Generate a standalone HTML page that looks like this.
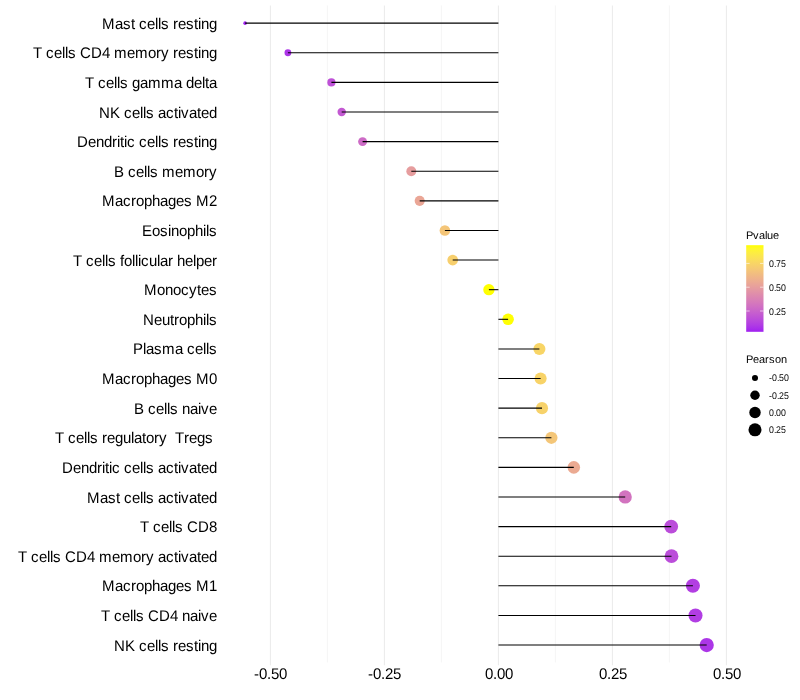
<!DOCTYPE html>
<html><head><meta charset="utf-8"><title>Pearson lollipop</title>
<style>html,body{margin:0;padding:0;background:#fff}svg{display:block}text{text-rendering:geometricPrecision;white-space:pre;font-family:"Liberation Sans",Arial,Helvetica,sans-serif;fill:#000}</style></head><body>
<svg width="800" height="700" viewBox="0 0 800 700">
<rect width="800" height="700" fill="#fff"/>
<line x1="327.40" x2="327.40" y1="5.5" y2="662.4" stroke="#EBEBEB" stroke-width="0.53"/>
<line x1="441.40" x2="441.40" y1="5.5" y2="662.4" stroke="#EBEBEB" stroke-width="0.53"/>
<line x1="555.40" x2="555.40" y1="5.5" y2="662.4" stroke="#EBEBEB" stroke-width="0.53"/>
<line x1="669.40" x2="669.40" y1="5.5" y2="662.4" stroke="#EBEBEB" stroke-width="0.53"/>
<line x1="270.40" x2="270.40" y1="5.5" y2="665.15" stroke="#EBEBEB" stroke-width="1.07"/>
<line x1="384.40" x2="384.40" y1="5.5" y2="665.15" stroke="#EBEBEB" stroke-width="1.07"/>
<line x1="498.40" x2="498.40" y1="5.5" y2="665.15" stroke="#EBEBEB" stroke-width="1.07"/>
<line x1="612.40" x2="612.40" y1="5.5" y2="665.15" stroke="#EBEBEB" stroke-width="1.07"/>
<line x1="726.40" x2="726.40" y1="5.5" y2="665.15" stroke="#EBEBEB" stroke-width="1.07"/>
<circle cx="245.10" cy="23.15" r="1.78" fill="#A020F0"/>
<circle cx="287.90" cy="52.77" r="3.40" fill="#AC35E7"/>
<circle cx="331.40" cy="82.38" r="4.08" fill="#BE51D7"/>
<circle cx="341.70" cy="112.00" r="4.22" fill="#C359D2"/>
<circle cx="362.60" cy="141.61" r="4.47" fill="#CD6BC6"/>
<circle cx="411.30" cy="171.22" r="4.98" fill="#E69D9E"/>
<circle cx="419.70" cy="200.84" r="5.06" fill="#EAA696"/>
<circle cx="444.90" cy="230.45" r="5.28" fill="#F4C578"/>
<circle cx="452.70" cy="260.07" r="5.35" fill="#F7CF6D"/>
<circle cx="488.90" cy="289.68" r="5.65" fill="#FFFF00"/>
<circle cx="508.10" cy="319.30" r="5.80" fill="#FFFF03"/>
<circle cx="539.40" cy="348.91" r="6.03" fill="#F8D566"/>
<circle cx="540.60" cy="378.53" r="6.04" fill="#F8D368"/>
<circle cx="542.00" cy="408.14" r="6.05" fill="#F7D26A"/>
<circle cx="551.40" cy="437.76" r="6.12" fill="#F4C678"/>
<circle cx="573.80" cy="467.37" r="6.28" fill="#EBAA92"/>
<circle cx="625.20" cy="496.99" r="6.62" fill="#D273BF"/>
<circle cx="671.20" cy="526.61" r="6.90" fill="#BB4DDA"/>
<circle cx="671.50" cy="556.22" r="6.90" fill="#BB4DDA"/>
<circle cx="692.90" cy="585.83" r="7.03" fill="#B23EE2"/>
<circle cx="695.50" cy="615.45" r="7.04" fill="#B13DE3"/>
<circle cx="706.70" cy="645.06" r="7.11" fill="#AC36E7"/>
<line x1="498.40" x2="245.10" y1="23.15" y2="23.15" stroke="#000" stroke-width="1.07"/>
<line x1="498.40" x2="287.90" y1="52.77" y2="52.77" stroke="#000" stroke-width="1.07"/>
<line x1="498.40" x2="331.40" y1="82.38" y2="82.38" stroke="#000" stroke-width="1.07"/>
<line x1="498.40" x2="341.70" y1="112.00" y2="112.00" stroke="#000" stroke-width="1.07"/>
<line x1="498.40" x2="362.60" y1="141.61" y2="141.61" stroke="#000" stroke-width="1.07"/>
<line x1="498.40" x2="411.30" y1="171.22" y2="171.22" stroke="#000" stroke-width="1.07"/>
<line x1="498.40" x2="419.70" y1="200.84" y2="200.84" stroke="#000" stroke-width="1.07"/>
<line x1="498.40" x2="444.90" y1="230.45" y2="230.45" stroke="#000" stroke-width="1.07"/>
<line x1="498.40" x2="452.70" y1="260.07" y2="260.07" stroke="#000" stroke-width="1.07"/>
<line x1="498.40" x2="488.90" y1="289.68" y2="289.68" stroke="#000" stroke-width="1.07"/>
<line x1="498.40" x2="508.10" y1="319.30" y2="319.30" stroke="#000" stroke-width="1.07"/>
<line x1="498.40" x2="539.40" y1="348.91" y2="348.91" stroke="#000" stroke-width="1.07"/>
<line x1="498.40" x2="540.60" y1="378.53" y2="378.53" stroke="#000" stroke-width="1.07"/>
<line x1="498.40" x2="542.00" y1="408.14" y2="408.14" stroke="#000" stroke-width="1.07"/>
<line x1="498.40" x2="551.40" y1="437.76" y2="437.76" stroke="#000" stroke-width="1.07"/>
<line x1="498.40" x2="573.80" y1="467.37" y2="467.37" stroke="#000" stroke-width="1.07"/>
<line x1="498.40" x2="625.20" y1="496.99" y2="496.99" stroke="#000" stroke-width="1.07"/>
<line x1="498.40" x2="671.20" y1="526.61" y2="526.61" stroke="#000" stroke-width="1.07"/>
<line x1="498.40" x2="671.50" y1="556.22" y2="556.22" stroke="#000" stroke-width="1.07"/>
<line x1="498.40" x2="692.90" y1="585.83" y2="585.83" stroke="#000" stroke-width="1.07"/>
<line x1="498.40" x2="695.50" y1="615.45" y2="615.45" stroke="#000" stroke-width="1.07"/>
<line x1="498.40" x2="706.70" y1="645.06" y2="645.06" stroke="#000" stroke-width="1.07"/>
<text x="102 115 123 131 135 139 147 155 158 161 169 173 178 186 194 198 201 209" y="0.00" font-size="15" transform="translate(0 29.00) scale(1 1.03)" xml:space="preserve">Mast cells resting</text>
<text x="33 42 46 54 62 65 68 76 80 91 102 110 114 127 135 148 156 161 169 173 178 186 194 198 201 209" y="0.00" font-size="15" transform="translate(0 58.00) scale(1 1.03)" xml:space="preserve">T cells CD4 memory resting</text>
<text x="85 94 98 106 114 117 120 128 132 140 148 161 174 182 186 194 202 205 209" y="0.00" font-size="15" transform="translate(0 88.00) scale(1 1.03)" xml:space="preserve">T cells gamma delta</text>
<text x="99 110 120 124 132 140 143 146 154 158 166 174 178 181 189 197 201 209" y="0.00" font-size="15" transform="translate(0 118.00) scale(1 1.03)" xml:space="preserve">NK cells activated</text>
<text x="77 88 96 104 112 117 120 124 127 135 139 147 155 158 161 169 173 178 186 194 198 201 209" y="0.00" font-size="15" transform="translate(0 147.00) scale(1 1.03)" xml:space="preserve">Dendritic cells resting</text>
<text x="114 124 128 136 144 147 150 158 162 175 183 196 204 209" y="0.00" font-size="15" transform="translate(0 177.00) scale(1 1.03)" xml:space="preserve">B cells memory</text>
<text x="102 115 123 131 136 144 152 160 168 176 184 192 196 209" y="0.00" font-size="15" transform="translate(0 206.00) scale(1 1.03)" xml:space="preserve">Macrophages M2</text>
<text x="142 152 160 168 171 179 187 195 203 206 209" y="0.00" font-size="15" transform="translate(0 236.00) scale(1 1.03)" xml:space="preserve">Eosinophils</text>
<text x="73 82 86 94 102 105 108 116 120 124 132 135 138 141 149 157 160 168 173 177 185 193 196 204 212" y="0.00" font-size="15" transform="translate(0 266.00) scale(1 1.03)" xml:space="preserve">T cells follicular helper</text>
<text x="144 157 165 173 181 189 197 201 209" y="0.00" font-size="15" transform="translate(0 295.00) scale(1 1.03)" xml:space="preserve">Monocytes</text>
<text x="143 154 162 170 174 179 187 195 203 206 209" y="0.00" font-size="15" transform="translate(0 325.00) scale(1 1.03)" xml:space="preserve">Neutrophils</text>
<text x="133 143 146 154 162 175 183 187 195 203 206 209" y="0.00" font-size="15" transform="translate(0 354.00) scale(1 1.03)" xml:space="preserve">Plasma cells</text>
<text x="102 115 123 131 136 144 152 160 168 176 184 192 196 209" y="0.00" font-size="15" transform="translate(0 384.00) scale(1 1.03)" xml:space="preserve">Macrophages M0</text>
<text x="134 144 148 156 164 167 170 178 182 190 198 201 209" y="0.00" font-size="15" transform="translate(0 414.00) scale(1 1.03)" xml:space="preserve">B cells naive</text>
<text x="55 64 68 76 84 87 90 98 102 107 115 123 131 134 142 146 154 159 167 171 175 184 189 197 205 213" y="0.00" font-size="15" transform="translate(0 443.00) scale(1 1.03)" xml:space="preserve">T cells regulatory  Tregs </text>
<text x="62 73 81 89 97 102 105 109 112 120 124 132 140 143 146 154 158 166 174 178 181 189 197 201 209" y="0.00" font-size="15" transform="translate(0 473.00) scale(1 1.03)" xml:space="preserve">Dendritic cells activated</text>
<text x="87 100 108 116 120 124 132 140 143 146 154 158 166 174 178 181 189 197 201 209" y="0.00" font-size="15" transform="translate(0 503.00) scale(1 1.03)" xml:space="preserve">Mast cells activated</text>
<text x="140 149 153 161 169 172 175 183 187 198 209" y="0.00" font-size="15" transform="translate(0 532.00) scale(1 1.03)" xml:space="preserve">T cells CD8</text>
<text x="18 27 31 39 47 50 53 61 65 76 87 95 99 112 120 133 141 146 154 158 166 174 178 181 189 197 201 209" y="0.00" font-size="15" transform="translate(0 562.00) scale(1 1.03)" xml:space="preserve">T cells CD4 memory activated</text>
<text x="102 115 123 131 136 144 152 160 168 176 184 192 196 209" y="0.00" font-size="15" transform="translate(0 591.00) scale(1 1.03)" xml:space="preserve">Macrophages M1</text>
<text x="101 110 114 122 130 133 136 144 148 159 170 178 182 190 198 201 209" y="0.00" font-size="15" transform="translate(0 621.00) scale(1 1.03)" xml:space="preserve">T cells CD4 naive</text>
<text x="114 125 135 139 147 155 158 161 169 173 178 186 194 198 201 209" y="0.00" font-size="15" transform="translate(0 651.00) scale(1 1.03)" xml:space="preserve">NK cells resting</text>
<text x="254 259 267 271 279" y="0.00" font-size="15" transform="translate(0 679.00) scale(1 1.03)" xml:space="preserve">-0.50</text>
<text x="368 373 381 385 393" y="0.00" font-size="15" transform="translate(0 679.00) scale(1 1.03)" xml:space="preserve">-0.25</text>
<text x="485 493 497 505" y="0.00" font-size="15" transform="translate(0 679.00) scale(1 1.03)" xml:space="preserve">0.00</text>
<text x="599 607 611 619" y="0.00" font-size="15" transform="translate(0 679.00) scale(1 1.03)" xml:space="preserve">0.25</text>
<text x="713 721 725 733" y="0.00" font-size="15" transform="translate(0 679.00) scale(1 1.03)" xml:space="preserve">0.50</text>
<defs><linearGradient id="cb" x1="0" y1="0" x2="0" y2="1"><stop offset="0.0000" stop-color="#FFFF00"/><stop offset="0.0417" stop-color="#FEF72C"/><stop offset="0.0833" stop-color="#FDEE3F"/><stop offset="0.1250" stop-color="#FBE64E"/><stop offset="0.1667" stop-color="#FADE5A"/><stop offset="0.2083" stop-color="#F8D565"/><stop offset="0.2500" stop-color="#F6CD6F"/><stop offset="0.2917" stop-color="#F4C578"/><stop offset="0.3333" stop-color="#F1BC81"/><stop offset="0.3750" stop-color="#EFB489"/><stop offset="0.4167" stop-color="#ECAC91"/><stop offset="0.4583" stop-color="#E9A399"/><stop offset="0.5000" stop-color="#E59BA0"/><stop offset="0.5417" stop-color="#E192A7"/><stop offset="0.5833" stop-color="#DD89AE"/><stop offset="0.6250" stop-color="#D981B5"/><stop offset="0.6667" stop-color="#D578BC"/><stop offset="0.7083" stop-color="#D06FC3"/><stop offset="0.7500" stop-color="#CA66C9"/><stop offset="0.7917" stop-color="#C55CD0"/><stop offset="0.8333" stop-color="#BE52D6"/><stop offset="0.8750" stop-color="#B848DD"/><stop offset="0.9167" stop-color="#B13DE3"/><stop offset="0.9583" stop-color="#A930EA"/><stop offset="1.0000" stop-color="#A020F0"/></linearGradient></defs>
<text x="746 753 759 765 767 773" y="239.00" font-size="11" xml:space="preserve">Pvalue</text>
<rect x="746.2" y="245.2" width="17.30" height="86.60" fill="url(#cb)"/>
<line x1="746.2" x2="749.66" y1="263.41" y2="263.41" stroke="#fff" stroke-width="0.6"/>
<line x1="760.04" x2="763.5" y1="263.41" y2="263.41" stroke="#fff" stroke-width="0.6"/>
<text x="769 774 776 781" y="0.00" font-size="8.8" transform="translate(0 267.00) scale(1 1.1)" xml:space="preserve">0.75</text>
<line x1="746.2" x2="749.66" y1="287.21" y2="287.21" stroke="#fff" stroke-width="0.6"/>
<line x1="760.04" x2="763.5" y1="287.21" y2="287.21" stroke="#fff" stroke-width="0.6"/>
<text x="769 774 776 781" y="0.00" font-size="8.8" transform="translate(0 291.00) scale(1 1.1)" xml:space="preserve">0.50</text>
<line x1="746.2" x2="749.66" y1="311.01" y2="311.01" stroke="#fff" stroke-width="0.6"/>
<line x1="760.04" x2="763.5" y1="311.01" y2="311.01" stroke="#fff" stroke-width="0.6"/>
<text x="769 774 776 781" y="0.00" font-size="8.8" transform="translate(0 315.00) scale(1 1.1)" xml:space="preserve">0.25</text>
<text x="746 753 759 765 769 775 781" y="363.00" font-size="11" xml:space="preserve">Pearson</text>
<circle cx="755" cy="378.00" r="3.02" fill="#000"/>
<text x="769 772 777 779 784" y="0.00" font-size="8.8" transform="translate(0 381.00) scale(1 1.1)" xml:space="preserve">-0.50</text>
<circle cx="755" cy="395.28" r="4.71" fill="#000"/>
<text x="769 772 777 779 784" y="0.00" font-size="8.8" transform="translate(0 399.00) scale(1 1.1)" xml:space="preserve">-0.25</text>
<circle cx="755" cy="412.56" r="5.73" fill="#000"/>
<text x="769 774 776 781" y="0.00" font-size="8.8" transform="translate(0 416.00) scale(1 1.1)" xml:space="preserve">0.00</text>
<circle cx="755" cy="429.84" r="6.53" fill="#000"/>
<text x="769 774 776 781" y="0.00" font-size="8.8" transform="translate(0 433.00) scale(1 1.1)" xml:space="preserve">0.25</text>
</svg></body></html>
